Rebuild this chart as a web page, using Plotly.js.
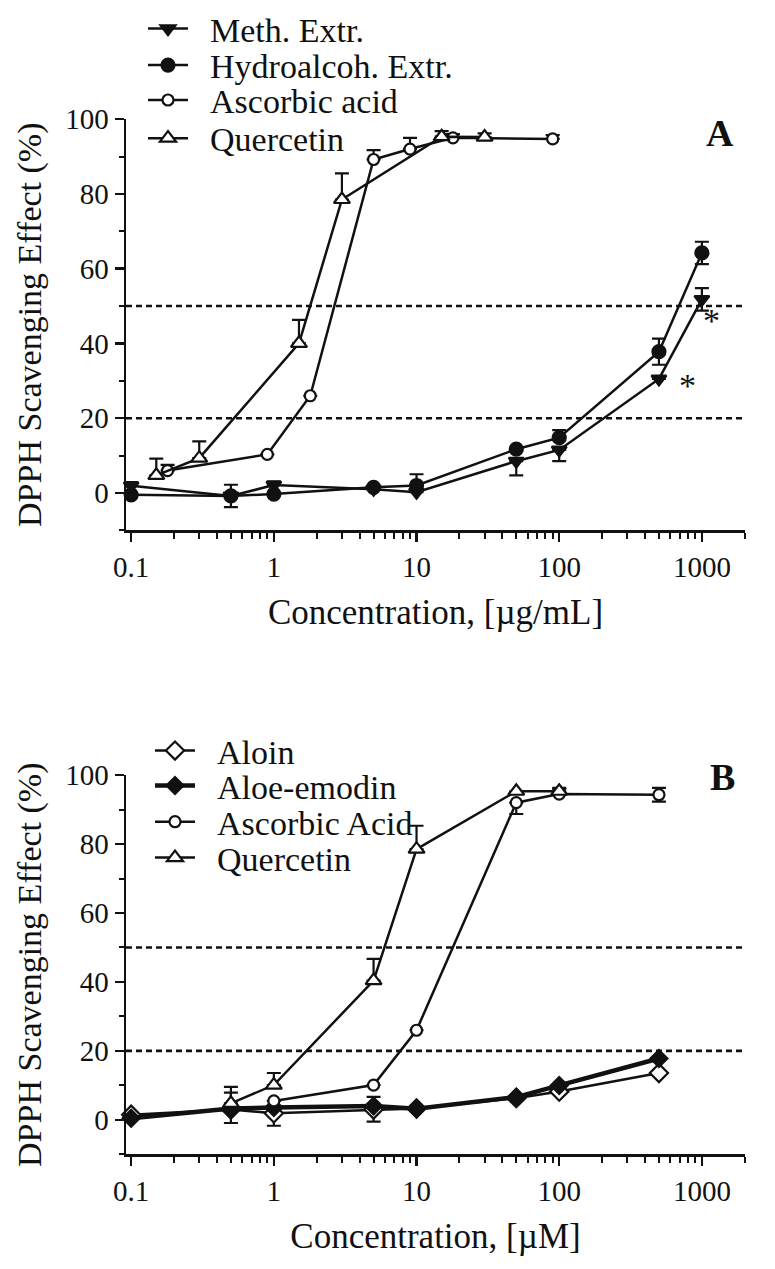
<!DOCTYPE html>
<html>
<head>
<meta charset="utf-8">
<script src="https://cdn.plot.ly/plotly-3.0.1.min.js"></script>
<style>html,body{margin:0;padding:0;background:#fff}#chart{width:775px;height:1269px}</style>
</head>
<body>
<div id="chart"></div>
<script>
// ---------- Panel A data (µg/mL) ----------
const methX = [0.1, 0.5, 1, 5, 10, 50, 100, 500, 1000];
const methY = [1.9, -0.8, 2.1, 1.0, 0.2, 8.5, 11.5, 30.5, 51.8];
const methErrUp = [1, 3, 1, 0, 0, 0, 0, 0, 3];
const methErrDown = [0, 3, 0, 0, 0, 3.8, 3, 0, 3];

const hydroX = [0.1, 0.5, 1, 5, 10, 50, 100, 500, 1000];
const hydroY = [-0.5, -0.8, -0.3, 1.5, 2.0, 11.7, 14.8, 37.8, 64.2];
const hydroErrUp = [0, 0, 0, 0, 3, 0, 2, 3.5, 3];
const hydroErrDown = [0, 0, 0, 0, 0, 0, 0, 3.5, 3];

const ascAX = [0.18, 0.9, 1.8, 5, 9, 18, 90];
const ascAY = [6, 10.3, 26, 89.2, 92, 95, 94.7];
const ascAErrUp = [1.5, 0, 0, 2.5, 3, 1, 1];
const ascAErrDown = [0, 0, 0, 0, 0, 0, 0];

const querAX = [0.15, 0.3, 1.5, 3, 15, 30];
const querAY = [4.7, 9.3, 40, 78.5, 95.3, 95.2];
const querAErrUp = [4.5, 4.5, 6.3, 7, 1.5, 1];
const querAErrDown = [0, 0, 0, 0, 0, 0];

// ---------- Panel B data (µM) ----------
const aloinX = [0.1, 0.5, 1, 5, 10, 50, 100, 500];
const aloinY = [1.5, 3.0, 1.9, 3.0, 3.3, 6.3, 8.2, 13.6];
const aloinErrUp = [0, 0, 0, 3.7, 0, 0, 0, 0];
const aloinErrDown = [0, 0, 3.6, 3.5, 0, 0, 0, 0];

const emodinX = [0.1, 0.5, 1, 5, 10, 50, 100, 500];
const emodinY = [0.5, 3.3, 3.6, 4.0, 3.2, 6.6, 10.0, 17.8];
const emodinErrUp = [0, 4.6, 0, 0, 0, 0, 0, 0];
const emodinErrDown = [0, 4.2, 0, 0, 0, 0, 0, 0];

const ascBX = [1, 5, 10, 50, 100, 500];
const ascBY = [5.5, 10.1, 26, 92, 94.5, 94.3];
const ascBErrUp = [0, 0, 0, 0, 1.5, 2];
const ascBErrDown = [0, 0, 0, 3.3, 0, 2];

const querBX = [0.5, 1, 5, 10, 50, 100];
const querBY = [4.8, 10.1, 40.4, 78.5, 95.3, 95.3];
const querBErrUp = [4.8, 3.5, 6.3, 6.8, 0, 1];
const querBErrDown = [0, 0, 0, 0, 0, 0];

// ---------- labels ----------
const namesA = ['Meth. Extr.', 'Hydroalcoh. Extr.', 'Ascorbic acid', 'Quercetin'];
const namesB = ['Aloin', 'Aloe-emodin', 'Ascorbic Acid', 'Quercetin'];
const xTickVals = [0.1, 1, 10, 100, 1000];
const xTickText = ['0.1', '1', '10', '100', '1000'];
const yTickVals = [0, 20, 40, 60, 80, 100];
const refLevels = [20, 50];
const stars = [{x: 1175, y: 46}, {x: 798, y: 28.7}];

const FONT = 'Liberation Serif, Times New Roman, serif';
const INK = '#111';
const W = 775, H = 1269;
const px = v => v / W;
const py = v => 1 - v / H;
const GAP = '\u2002'; // spacing between legend sample and label

function errBars(up, down) {
  return {type: 'data', symmetric: false, array: up, arrayminus: down,
          color: INK, thickness: 2.2, width: 7, visible: true};
}
function trace(x, y, up, down, name, sym, fill, xa, ya, leg, lw, msize) {
  return {
    type: 'scatter', mode: 'lines+markers', x: x, y: y, name: GAP + name,
    xaxis: xa, yaxis: ya, legend: leg,
    line: {color: INK, width: lw || 2.5},
    marker: {symbol: sym, size: msize || 12, color: fill, line: {color: INK, width: 2.2}},
    error_y: errBars(up, down), cliponaxis: false
  };
}

const data = [
  trace(methX, methY, methErrUp, methErrDown, namesA[0], 'triangle-down', INK, 'x', 'y', 'legend', 2.5, 13),
  trace(hydroX, hydroY, hydroErrUp, hydroErrDown, namesA[1], 'circle', INK, 'x', 'y', 'legend2', 2.5, 13),
  trace(ascAX, ascAY, ascAErrUp, ascAErrDown, namesA[2], 'circle', '#fff', 'x', 'y', 'legend3', 2.5, 11),
  trace(querAX, querAY, querAErrUp, querAErrDown, namesA[3], 'triangle-up', '#fff', 'x', 'y', 'legend4', 2.5, 14),
  trace(aloinX, aloinY, aloinErrUp, aloinErrDown, namesB[0], 'diamond', '#fff', 'x2', 'y2', 'legend5', 2.5, 14),
  trace(emodinX, emodinY, emodinErrUp, emodinErrDown, namesB[1], 'diamond', INK, 'x2', 'y2', 'legend6', 4.5, 13),
  trace(ascBX, ascBY, ascBErrUp, ascBErrDown, namesB[2], 'circle', '#fff', 'x2', 'y2', 'legend7', 2.5, 11),
  trace(querBX, querBY, querBErrUp, querBErrDown, namesB[3], 'triangle-up', '#fff', 'x2', 'y2', 'legend8', 2.5, 14)
];

function xaxis(title, anchor) {
  return {
    type: 'log', range: [Math.log10(0.092), Math.log10(2005)], domain: [px(126), px(745)],
    anchor: anchor, tickmode: 'array', tickvals: xTickVals, ticktext: xTickText,
    ticks: 'outside', ticklen: 9, tickwidth: 2.5, tickcolor: INK,
    minor: {ticks: 'outside', ticklen: 6, tickwidth: 2, tickcolor: INK, dtick: 'D1', showgrid: false},
    showline: true, linewidth: 2.5, linecolor: INK, showgrid: false, zeroline: false,
    tickfont: {family: FONT, size: 29, color: INK},
    title: {text: title, font: {family: FONT, size: 35, color: INK}, standoff: 18},
    fixedrange: true
  };
}
function yaxis(anchor, top, bottom) {
  return {
    range: [-10, 100], domain: [py(bottom), py(top)], anchor: anchor,
    tickmode: 'array', tickvals: yTickVals,
    ticks: 'outside', ticklen: 9, tickwidth: 2.5, tickcolor: INK,
    minor: {ticks: 'outside', ticklen: 5, tickwidth: 2, tickcolor: INK, dtick: 10, tick0: 0, showgrid: false},
    showline: true, linewidth: 2.5, linecolor: INK, showgrid: false, zeroline: false,
    tickfont: {family: FONT, size: 29, color: INK},
    title: {text: 'DPPH Scavenging Effect (%)', font: {family: FONT, size: 34, color: INK}, standoff: 14},
    fixedrange: true
  };
}

function legendAt(xp, yp) {
  return {x: px(xp), y: py(yp), xanchor: 'left', yanchor: 'middle', xref: 'paper', yref: 'paper',
          bgcolor: 'rgba(0,0,0,0)', borderwidth: 0, itemwidth: 40,
          font: {family: FONT, size: 34, color: INK}, itemclick: false, itemdoubleclick: false};
}

const shapes = [];
refLevels.forEach(v => {
  ['x', 'x2'].forEach((xa, i) => {
    shapes.push({type: 'line', xref: xa + ' domain', x0: 0, x1: 1, yref: i === 0 ? 'y' : 'y2', y0: v, y1: v,
                 line: {color: INK, width: 2.6, dash: '6px,4px'}, layer: 'below'});
  });
});

const annotations = [
  {text: '<b>A</b>', xref: 'paper', yref: 'paper', x: px(720), y: py(129), showarrow: false,
   font: {family: FONT, size: 38, color: INK}, xanchor: 'center', yanchor: 'middle'},
  {text: '<b>B</b>', xref: 'paper', yref: 'paper', x: px(722), y: py(775), showarrow: false,
   font: {family: FONT, size: 38, color: INK}, xanchor: 'center', yanchor: 'middle'}
];
stars.forEach(s => annotations.push({text: '*', xref: 'x', yref: 'y', x: Math.log10(s.x), y: s.y,
  showarrow: false, font: {family: FONT, size: 34, color: INK}, xanchor: 'center', yanchor: 'middle'}));

const layout = {
  width: W, height: H, margin: {l: 0, r: 0, t: 0, b: 0}, autosize: false,
  paper_bgcolor: '#fff', plot_bgcolor: 'rgba(0,0,0,0)',
  font: {family: FONT, color: INK},
  showlegend: true, hovermode: false,
  xaxis: xaxis('Concentration, [µg/mL]', 'y'),
  yaxis: yaxis('x', 115.5, 528),
  xaxis2: xaxis('Concentration, [µM]', 'y2'),
  yaxis2: yaxis('x2', 773.5, 1154),
  legend: legendAt(143, 25),
  legend2: legendAt(143, 61.7),
  legend3: legendAt(143, 96.7),
  legend4: legendAt(143, 135),
  legend5: legendAt(150, 749.3),
  legend6: legendAt(150, 784.3),
  legend7: legendAt(150, 820.7),
  legend8: legendAt(150, 856.7),
  shapes: shapes, annotations: annotations
};

Plotly.newPlot('chart', data, layout, {staticPlot: true, displayModeBar: false});
</script>
</body>
</html>
